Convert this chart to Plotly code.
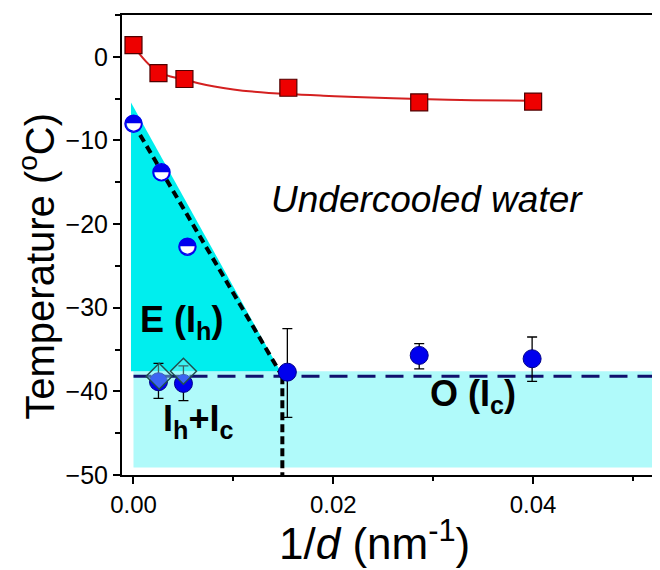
import plotly.graph_objects as go

# ---- data ----
sq_x = [0.0, 0.0025, 0.0051, 0.0155, 0.0286, 0.0400]
sq_y = [1.4, -1.95, -2.65, -3.7, -5.45, -5.35]

fit_x = [0.0, 0.0007, 0.0018, 0.0026, 0.0037, 0.0051, 0.0065, 0.0081, 0.0100, 0.0119, 0.0155, 0.0190, 0.0222, 0.0286, 0.0340, 0.0400]
fit_y = [1.4, 0.2, -1.2, -1.85, -2.35, -2.7, -3.15, -3.55, -3.9, -4.15, -4.45, -4.65, -4.8, -5.05, -5.18, -5.25]

half_x = [0.0, 0.0028, 0.0054]
half_y = [-8.0, -13.8, -22.7]

circ_x = [0.0025, 0.0050, 0.0154, 0.0286, 0.0399]
circ_y = [-38.85, -39.05, -37.7, -35.7, -36.1]
circ_err_plus = [2.2, 2.1, 5.2, 1.4, 2.6]
circ_err_minus = [2.0, 2.05, 5.4, 1.6, 2.7]

dia_x = [0.00257, 0.0050]
dia_y = [-38.2, -37.6]

eut_T = -38.2
eut_x = [0.0, 0.06]
diag_x = [0.0, 0.0149]
diag_y = [-8.0, -38.2]
vert_x = [0.0149, 0.0149]
vert_y = [-38.2, -50.0]

tri_x = [-0.00025, 0.0147, -0.00025]
tri_y = [-5.45, -37.6, -37.6]
rect_x = [0.0, 0.06, 0.06, 0.0]
rect_y = [-37.6, -37.6, -49.1, -49.1]

x_ticks = [0.0, 0.02, 0.04]
x_ticklabels = ["0.00", "0.02", "0.04"]
y_ticks = [0, -10, -20, -30, -40, -50]

FONT = "Liberation Sans, Arial, sans-serif"

fig = go.Figure()
fig.add_trace(go.Scatter(x=rect_x, y=rect_y, fill="toself", mode="none",
                         fillcolor="rgb(176,250,250)", hoverinfo="skip"))
fig.add_trace(go.Scatter(x=tri_x, y=tri_y, fill="toself", mode="none",
                         fillcolor="rgb(0,238,238)", hoverinfo="skip"))
fig.add_trace(go.Scatter(x=eut_x, y=[eut_T, eut_T], mode="lines",
                         line=dict(color="#10106e", width=3, dash="18px,10px")))
fig.add_trace(go.Scatter(x=diag_x, y=diag_y, mode="lines",
                         line=dict(color="black", width=4, dash="8px,5px")))
fig.add_trace(go.Scatter(x=vert_x, y=vert_y, mode="lines",
                         line=dict(color="black", width=4, dash="8px,4px")))
fig.add_trace(go.Scatter(x=circ_x, y=circ_y, mode="markers",
                         marker=dict(symbol="circle", size=18, color="#0000ee",
                                     line=dict(color="#00008a", width=1)),
                         error_y=dict(type="data", symmetric=False, array=circ_err_plus,
                                      arrayminus=circ_err_minus, color="black",
                                      thickness=1.3, width=5)))
fig.add_trace(go.Scatter(x=dia_x, y=dia_y, mode="markers",
                         marker=dict(symbol="diamond", size=20, color="rgba(150,250,250,0.4)",
                                     line=dict(color="#1f4f4f", width=1.5))))
# half-filled circles: white circle with blue rim + upper-half glyph
fig.add_trace(go.Scatter(x=half_x, y=half_y, mode="markers",
                         marker=dict(symbol="circle", size=17, color="white",
                                     line=dict(color="#0000ee", width=1.5))))
fig.add_trace(go.Scatter(x=half_x, y=half_y, mode="text", text=["\u25d3"] * len(half_x),
                         textposition="middle center",
                         textfont=dict(family="DejaVu Sans", size=22, color="#0000ee")))
fig.add_trace(go.Scatter(x=fit_x, y=fit_y, mode="lines",
                         line=dict(color="#d42020", width=2, shape="spline")))
fig.add_trace(go.Scatter(x=sq_x, y=sq_y, mode="markers",
                         marker=dict(symbol="square", size=17, color="#ee0000",
                                     line=dict(color="#500000", width=1.2))))

anns = [
    dict(x=0.0294, y=-17.1, text="<i>Undercooled water</i>", font=dict(size=37)),
    dict(x=0.0048, y=-31.7, text="<b>E (I<sub>h</sub>)</b>", font=dict(size=36)),
    dict(x=0.0065, y=-43.5, text="<b>I<sub>h</sub>+I<sub>c</sub></b>", font=dict(size=36)),
    dict(x=0.034, y=-40.5, text="<b>O (I<sub>c</sub>)</b>", font=dict(size=36)),
]
for a in anns:
    a.update(xref="x", yref="y", showarrow=False)
    a["font"].update(family=FONT, color="black")
    fig.add_annotation(**a)

fig.add_annotation(xref="paper", yref="paper", x=0.47, y=-0.142, xanchor="center", yanchor="middle",
                   text="1/<i>d</i> (nm<sup>-1</sup>)", showarrow=False,
                   font=dict(family=FONT, size=44, color="black"))
fig.add_annotation(xref="paper", yref="paper", x=-0.158, y=0.455, xanchor="center", yanchor="middle",
                   textangle=-90,
                   text="Temperature (<sup>o</sup>C)", showarrow=False,
                   font=dict(family=FONT, size=40, color="black"))

fig.update_layout(
    width=652, height=562,
    margin=dict(l=114, r=0, t=7, b=95),
    paper_bgcolor="white", plot_bgcolor="white",
    showlegend=False,
    font=dict(family=FONT, color="black"),
    xaxis=dict(range=[-0.00115, 0.0527], tickvals=x_ticks, ticktext=x_ticklabels,
               ticks="outside", ticklen=7, tickwidth=1.5, tickcolor="black",
               showline=True, linecolor="black", linewidth=2, mirror=True,
               showgrid=False, zeroline=False, tickfont=dict(size=24),
               minor=dict(dtick=0.01, tick0=0, ticks="outside", ticklen=4,
                          tickwidth=1.5, tickcolor="black", showgrid=False)),
    yaxis=dict(range=[-50, 5], tickvals=y_ticks,
               ticks="outside", ticklen=7, tickwidth=1.5, tickcolor="black",
               showline=True, linecolor="black", linewidth=2,
               showgrid=False, zeroline=False, tickfont=dict(size=25),
               minor=dict(dtick=5, tick0=0, ticks="outside", ticklen=5,
                          tickwidth=1.5, tickcolor="black", showgrid=False)),
)

fig.write_html("out.html")
